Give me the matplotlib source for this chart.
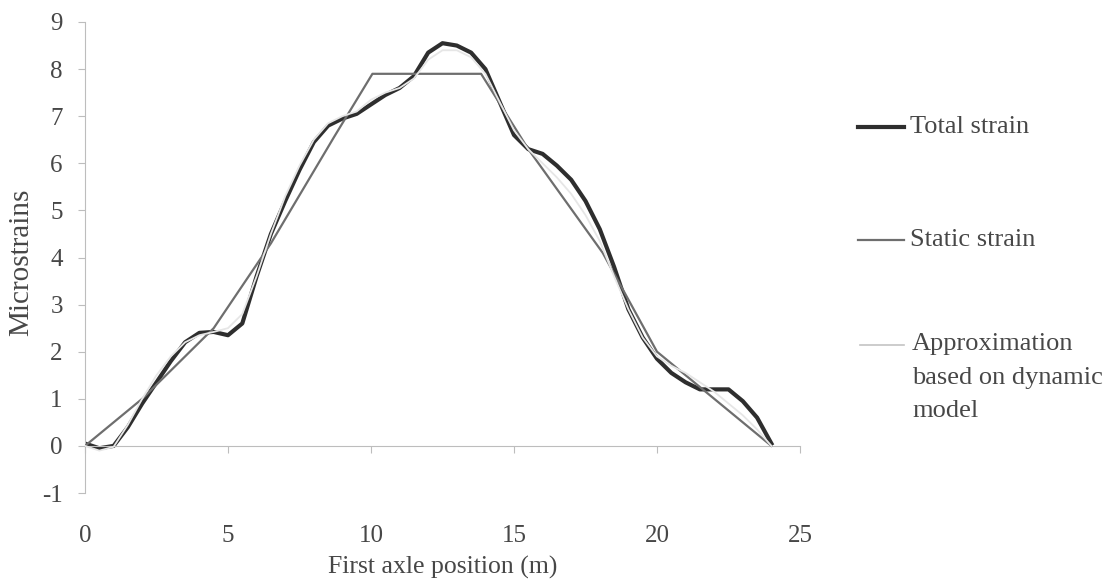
import matplotlib
matplotlib.use("Agg")
import matplotlib.pyplot as plt
from matplotlib.lines import Line2D

plt.rcParams['font.family'] = ['Liberation Serif', 'DejaVu Serif']

# ---- data ----
x_total = [0.0, 0.5, 1.0, 1.5, 2.0, 2.5, 3.0, 3.5, 4.0, 4.5, 5.0, 5.5, 6.0, 6.5, 7.0, 7.5,
           8.0, 8.5, 9.0, 9.5, 10.0, 10.5, 11.0, 11.5, 12.0, 12.5, 13.0, 13.5, 14.0, 14.5,
           15.0, 15.5, 16.0, 16.5, 17.0, 17.5, 18.0, 18.5, 19.0, 19.5, 20.0, 20.5, 21.0,
           21.5, 22.0, 22.5, 23.0, 23.5, 24.0]
total_strain = [0.05, -0.05, 0.0, 0.4, 0.9, 1.35, 1.8, 2.2, 2.4, 2.42, 2.35, 2.6, 3.6, 4.5,
                5.2, 5.86, 6.45, 6.8, 6.95, 7.05, 7.25, 7.45, 7.6, 7.85, 8.35, 8.55, 8.5,
                8.35, 8.0, 7.3, 6.6, 6.3, 6.2, 5.95, 5.65, 5.2, 4.6, 3.8, 2.9, 2.3, 1.85,
                1.55, 1.35, 1.2, 1.2, 1.2, 0.95, 0.6, 0.05]

x_static = [0.0, 2.0, 4.5, 6.5, 8.7, 10.05, 13.85, 15.5, 18.1, 20.0, 24.0]
static_strain = [0.0, 1.0, 2.5, 4.3, 6.55, 7.9, 7.9, 6.3, 4.1, 2.0, 0.0]

x_approx = x_total
approx_strain = [0.0, -0.1, -0.02, 0.45, 1.0, 1.5, 1.9, 2.2, 2.35, 2.42, 2.5, 2.8, 3.6,
                 4.5, 5.3, 5.95, 6.5, 6.85, 7.0, 7.1, 7.35, 7.5, 7.6, 7.8, 8.2, 8.4, 8.4,
                 8.25, 7.9, 7.3, 6.7, 6.3, 6.0, 5.7, 5.35, 4.9, 4.35, 3.6, 2.9, 2.3, 1.9,
                 1.7, 1.55, 1.35, 1.15, 0.9, 0.65, 0.35, 0.0]

x_ticks = [0, 5, 10, 15, 20, 25]
y_ticks = [-1, 0, 1, 2, 3, 4, 5, 6, 7, 8, 9]
labels = ["Total strain", "Static strain", "Approximation\nbased on dynamic\nmodel"]

# ---- figure ----
W, H = 1118, 583
fig = plt.figure(figsize=(W / 100, H / 100), dpi=100)
ax = fig.add_axes([85 / W, 1 - 493 / H, 715 / W, 471 / H])

text_c = '#474747'
axis_c = '#bdbdbd'

ax.plot(x_static, static_strain, color='#6e6e6e', lw=1.6, zorder=3)
ax.plot(x_total, total_strain, color='#2e2e2e', lw=3.0, zorder=2, solid_joinstyle='round')
ax.plot(x_approx, approx_strain, color='#e6e6e6', lw=1.3, zorder=4)

ax.set_xlim(0, 25)
ax.set_ylim(-1, 9)
ax.set_xticks(x_ticks)
ax.set_yticks(y_ticks)
ax.set_xticklabels([str(t) for t in x_ticks])
ax.set_yticklabels([str(t) for t in y_ticks])

for s in ['top', 'right']:
    ax.spines[s].set_visible(False)
ax.spines['bottom'].set_position(('data', 0))
for s in ['left', 'bottom']:
    ax.spines[s].set_color(axis_c)
    ax.spines[s].set_linewidth(0.8)

ax.tick_params(axis='y', direction='out', length=5, width=0.8, color=axis_c,
               labelsize=18, labelcolor=text_c, pad=11)
ax.tick_params(axis='x', direction='out', length=5, width=0.8, color=axis_c,
               labelsize=18, labelcolor=text_c, pad=52)

ax.set_xlabel("First axle position (m)", fontsize=18.5, color=text_c)
ax.xaxis.set_label_coords(0.5, -0.1335)
ax.set_ylabel("Microstrains", fontsize=21, color=text_c)
ax.yaxis.set_label_coords(-0.0705, 0.49)

# ---- legend (manual placement) ----
handle_styles = [
    dict(color='#2e2e2e', lw=3.0, y=127, x0=858),
    dict(color='#6e6e6e', lw=1.6, y=240, x0=858),
    dict(color='#c4c4c4', lw=1.2, y=345, x0=860),
]
for h, lab in zip(handle_styles, labels):
    yf = 1 - h['y'] / H
    fig.add_artist(Line2D([h['x0'] / W, 904 / W], [yf, yf], transform=fig.transFigure,
                          color=h['color'], lw=h['lw']))
    if '\n' in lab:
        fig.text(912 / W, 1 - (h['y'] - 12) / H, lab, fontsize=19, color=text_c,
                 va='top', ha='left', linespacing=1.68)
    else:
        fig.text(910 / W, yf, lab, fontsize=19, color=text_c, va='center', ha='left')

fig.savefig("out.png", dpi=100, facecolor='white')
